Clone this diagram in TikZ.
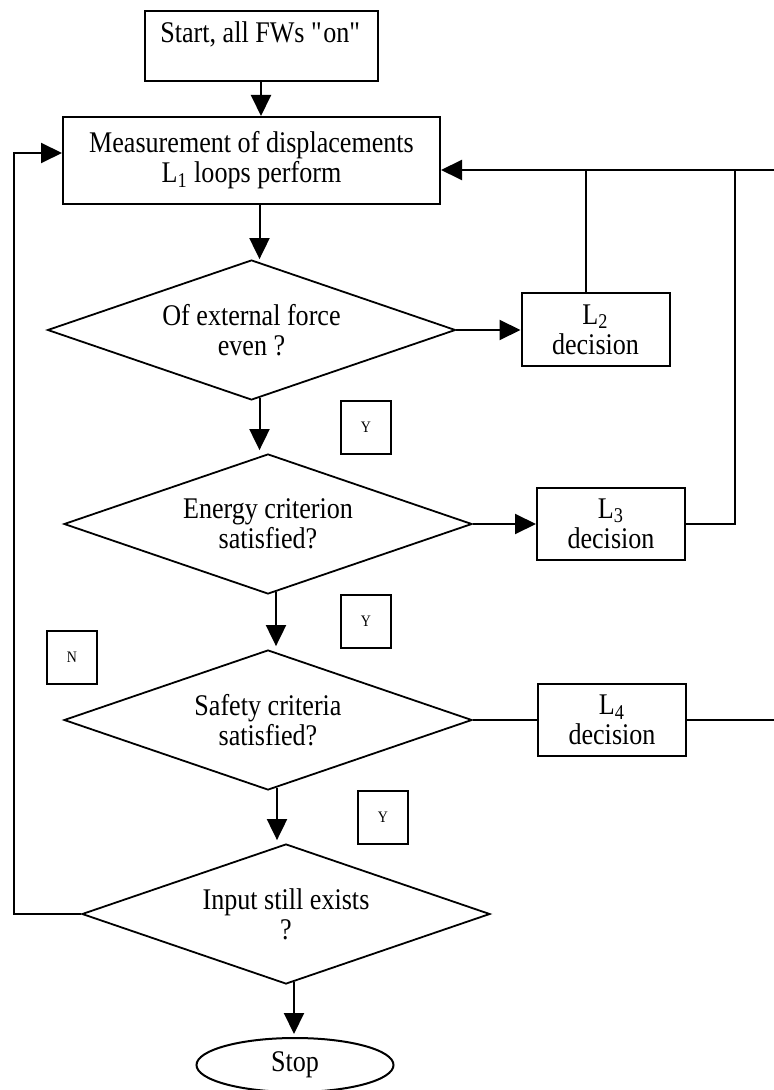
\documentclass[tikz,border=0pt]{standalone}
\usepackage{fontspec}
\setmainfont[FakeStretch=0.87]{Liberation Serif}
\usetikzlibrary{shapes.geometric,arrows.meta}
\newcommand\dfont{\fontsize{15}{15}\selectfont}
\begin{document}
\begin{tikzpicture}[x=0.5pt,y=-0.5pt,
  box/.style={draw, line width=1pt, rectangle, inner sep=0pt, align=center, font=\dfont},
  dia/.style={draw, diamond, aspect=2.9, minimum width=204pt, minimum height=70pt, inner sep=0pt, align=center, font=\dfont, line width=0.9pt},
  ynbox/.style={draw, line width=1pt, minimum width=25pt, minimum height=26.5pt, inner sep=0pt, font=\fontsize{8}{8}\selectfont},
  arr/.style={-{Triangle[length=10.5pt,width=10pt]}, line width=1pt},
  ln/.style={line width=1pt}]
\useasboundingbox (0,0) rectangle (773,1090);
% nodes
\node[box, minimum width=116.5pt, minimum height=35pt, text height=16pt, text depth=19pt] (start) at (261,46) {Start, all FWs \textquotedbl on\textquotedbl};
\node[box, minimum width=188.5pt, minimum height=43.5pt] (meas) at (251.5,160.5) {Measurement of displacements\\L\textsubscript{1} loops perform};
\node[dia] (d1) at (251.5,330) {Of external force\\even ?};
\node[dia] (d2) at (268,524) {Energy criterion\\satisfied?};
\node[dia] (d3) at (268,720) {Safety criteria\\satisfied?};
\node[dia] (d4) at (286,914) {Input still exists\\?};
\node[box, minimum width=74pt, minimum height=36.5pt] (l2) at (595.5,330) {L\textsubscript{2}\\decision};
\node[box, minimum width=74pt, minimum height=36pt] (l3) at (611,524) {L\textsubscript{3}\\decision};
\node[box, minimum width=74pt, minimum height=36pt] (l4) at (612,720) {L\textsubscript{4}\\decision};
\node[ynbox] (y1) at (366,427.5) {Y};
\node[ynbox] (y2) at (366,621.5) {Y};
\node[ynbox] (y3) at (383,817) {Y};
\node[ynbox] (n1) at (72,657.5) {N};
\node[draw, ellipse, line width=1pt, minimum width=98.5pt, minimum height=27pt, inner sep=0pt, font=\dfont] (stop) at (295,1065) {Stop};
\coordinate (fbR) at (777,170);
\coordinate (fbM) at (735,170);
\coordinate (fbL) at (14,153);
% connectors
\draw[arr] (start.south) -- (start.south |- meas.north);
\draw[arr] ([xshift=4pt]meas.south) -- ([xshift=4pt]meas.south |- d1.north);
\draw[arr] ([shift={(8,-3)}]d1.south) -- ([shift={(8,-3)}]d1.south |- d2.north);
\draw[arr] ([shift={(8,-3)}]d2.south) -- ([shift={(8,-3)}]d2.south |- d3.north);
\draw[arr] ([shift={(9,-3)}]d3.south) -- ([shift={(9,-3)}]d3.south |- d4.north);
\draw[arr] ([shift={(8,-3)}]d4.south) -- ([shift={(8,-3)}]d4.south |- stop.north);
\draw[arr] (d1.east) -- (l2.west);
\draw[arr] (d2.east) -- (l3.west);
\draw[ln] (d3.east) -- (l4.west);
\draw[ln] (l4.east) -| (fbR);
\draw[arr] (fbR) -- (meas.east |- fbR);
\draw[ln] ([xshift=-4.75pt]l2.north) -- ([xshift=-4.75pt]l2.north |- fbR);
\draw[ln] (l3.east) -| (fbM);
\draw[arr] (d4.west) -| (fbL) -- (meas.west |- fbL);
\end{tikzpicture}
\end{document}
